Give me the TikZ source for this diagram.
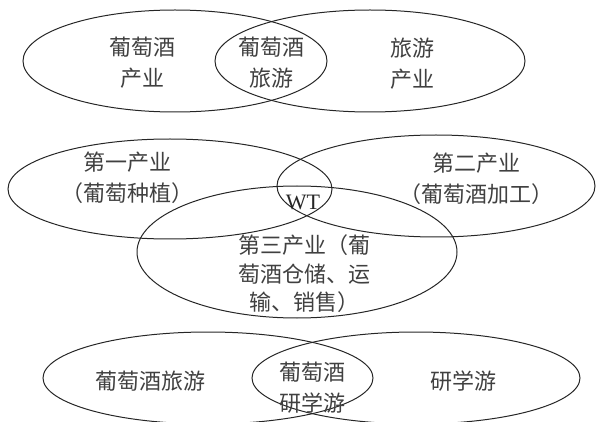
\documentclass[tikz,border=0pt]{standalone}
\usepackage{fontspec}
\setmainfont{Liberation Serif}
\newfontfamily\cjk{Noto Sans CJK SC}
\usepackage{tikz}
\usetikzlibrary{positioning}

\begin{document}
\begin{tikzpicture}[x=1pt, y=-1pt,
    ring/.style={line width=1pt, draw=black!85},
    lbl/.style={align=center, text=black!75, inner sep=0pt, font=\cjk\fontsize{22}{31}\selectfont},
    lbltight/.style={lbl, font=\cjk\fontsize{22}{28.5}\selectfont}]
    \useasboundingbox (0,0) rectangle (597,422);

    % wine industry and tourism
    \draw [ring] (175,61) ellipse (152 and 51);
    \draw [ring] (370,61) ellipse (155 and 51);
    \node [lbl] (wine) at (142,63) {葡萄酒\\产业};
    \node [lbl] (winetour) at (271,63) {葡萄酒\\旅游};
    \node [lbl] (tour) at (412,64) {旅游\\产业};

    % three industries
    \draw [ring] (170,189) ellipse (162 and 50);
    \draw [ring] (436,186) ellipse (159 and 51);
    \draw [ring] (297,252) ellipse (160 and 66);
    \node [lbl] (first) at (127,178) {第一产业\\（葡萄种植）};
    \node [lbl] (second) at (476,179) {第二产业\\（葡萄酒加工）};
    \node [lbltight] (third) at (304,274) {第三产业（葡\\萄酒仓储、运\\输、销售）};
    \node [inner sep=0pt, font=\fontsize{22}{24}\selectfont, text=black!85] (wt) at (303,202) {WT};

    % wine tourism and study tours
    \draw [ring] (208,378) ellipse (165 and 46);
    \draw [ring] (416,378) ellipse (164 and 46);
    \node [lbl] (winetrip) at (150,381) {葡萄酒旅游};
    \node [lbl] (winestudy) at (312,388) {葡萄酒\\研学游};
    \node [lbl] (study) at (463,381) {研学游};
\end{tikzpicture}
\end{document}
